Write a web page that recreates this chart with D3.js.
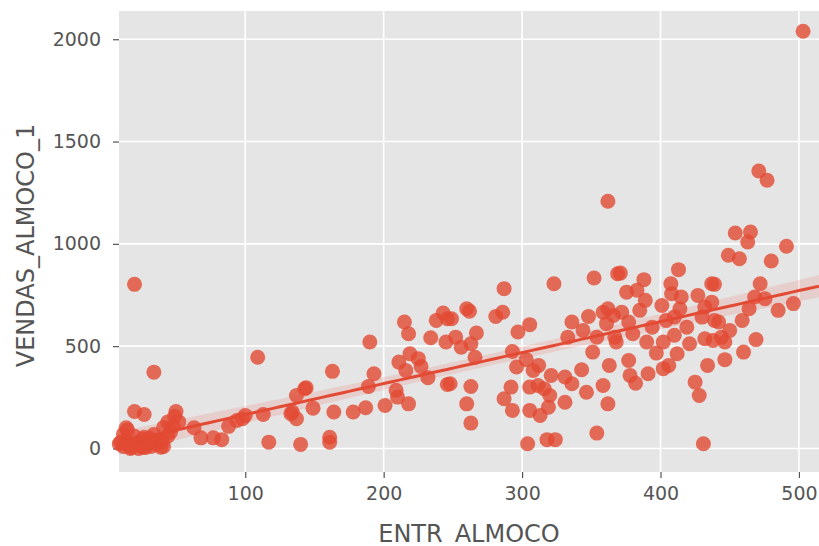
<!DOCTYPE html>
<html>
<head>
<meta charset="utf-8">
<script src="https://cdn.jsdelivr.net/npm/d3@7"></script>
<style>
  body { margin: 0; background: #fff; }
  svg { display: block; font-family: "DejaVu Sans", sans-serif; }
</style>
</head>
<body>
<div id="chart"></div>
<script>
// chart data
var entr = [
  34,109,20,27,50,49,14,34,41,44,40,39,63,68,77,83,88,94,98,100,113,117,20,
  12,14,16,18,20,22,24,26,28,30,12,15,10,17,23,27,32,36,38,41,44,46,48,52,31,9,17,26,27,
  163,190,144,137,134,137,149,164,178,187,140,161,161,193,189,201,210,209,218,211,216,219,225,227,
  215,218,232,234,238,243,246,245,246,143,133,
  287,323,352,369,260,262,281,286,249,252,256,263,267,266,248,263,260,263,293,297,305.5,296,303,308,312,
  292,287,293,304,318,324,305.5,311.5,321,316,320,305.5,313,319,331,336,331,343,346.5,358.5,362,354,363,
  336,348,333,344,354,351,358.5,362,366,367,361,
  413,371,388,407.5,437,375.5,383,389,408,415,427,372,385,401,414,432,437,377,394,404,410,419,430,439,
  368,380,390,402,410,421,432,438,397,412,406,402,377,391,378,382,434,425,428,431,
  471,477,454,465,463,491,449,457,480,439,472,468,475.5,496,485,464,459,442,450,444,446.5,469,460,446.5,
  503,362
];
var vendas = [
  373,446,181,166,181,156,101,68,103,129,31,6,101,52,52,43,108,137,145,161,166,31,802,
  10,40,20,5,60,30,15,45,5,25,70,90,30,0,0,20,10,20,40,10,60,80,110,130,50,23,15,6,55,
  377,520,297,259,178,145,197,178,178,199,20,55,31,365,303,210,251,284,218,422,381,463,439,401,
  618,561,346,541,626,662,634,520,313,292,170,
  781,805,833,854,683,671,645,666,634,544,495,512,564,446,316,303,218,124,474,569,605,398,434,381,406,
  300,243,186,23,43,43,300,308,357,292,259,186,161,202,349,316,226,385,275,308,218,75,406,
  618,645,544,577,544,471,666,683,650,544,610,
  874,857,825,805,805,764,773,724,756,740,748,666,675,699,683,691,715,618,593,626,642,593,642,626,
  520,561,520,520,553,512,536,528,466,463,406,390,430,365,357,319,406,324,259,23,
  1356,1311,1053,1058,1009,988,944,927,916,802,805,740,732,708,675,683,626,618,577,544,520,532,471,434,
  2039,1208
];
var xTicks = [100, 200, 300, 400, 500];
var yTicks = [0, 500, 1000, 1500, 2000];
var xDomain = [8.8, 514.5];
var yDomain = [-115, 2138];
var xLabel = "ENTR_ALMOCO";
var yLabel = "VENDAS_ALMOCO_1";

var width = 819, height = 546;
var plotL = 119, plotR = 819, plotT = 11, plotB = 472;
var red = "#E24A33";

var svg = d3.select("#chart").append("svg")
  .attr("width", width)
  .attr("height", height);

var x = d3.scaleLinear().domain(xDomain).range([plotL, plotR]);
var y = d3.scaleLinear().domain(yDomain).range([plotB, plotT]);

// panel background + grid
svg.append("rect")
  .attr("x", plotL).attr("y", plotT)
  .attr("width", plotR - plotL).attr("height", plotB - plotT)
  .attr("fill", "#E5E5E5");

svg.selectAll(".vgrid").data(xTicks).enter().append("line")
  .attr("x1", d => x(d)).attr("x2", d => x(d))
  .attr("y1", plotT).attr("y2", plotB)
  .attr("stroke", "#fff").attr("stroke-width", 1.6);

svg.selectAll(".hgrid").data(yTicks).enter().append("line")
  .attr("x1", plotL).attr("x2", plotR)
  .attr("y1", d => y(d)).attr("y2", d => y(d))
  .attr("stroke", "#fff").attr("stroke-width", 1.6);

// axes
var xAxis = svg.append("g")
  .attr("transform", "translate(0," + plotB + ")")
  .call(d3.axisBottom(x).tickValues(xTicks).tickSize(6).tickPadding(9).tickFormat(d3.format("d")));
var yAxis = svg.append("g")
  .attr("transform", "translate(" + plotL + ",0)")
  .call(d3.axisLeft(y).tickValues(yTicks).tickSize(6).tickPadding(12).tickFormat(d3.format("d")));

[xAxis, yAxis].forEach(function(g) {
  g.select(".domain").remove();
  g.selectAll(".tick line").attr("stroke", "#555555").attr("stroke-width", 1.2);
  g.selectAll(".tick text")
    .attr("fill", "#555555")
    .attr("font-size", "19px")
    .attr("font-family", "DejaVu Sans");
});

// points
var pts = entr.map(function(d, i) { return [d, vendas[i]]; });

svg.append("g").selectAll("circle")
  .data(pts)
  .enter()
  .append("circle")
  .attr("cx", d => x(d[0]))
  .attr("cy", d => y(d[1]))
  .attr("r", 7.5)
  .attr("fill", red)
  .attr("fill-opacity", 0.8);

// least squares fit with 95% band
var n = pts.length;
var mx = d3.mean(entr), my = d3.mean(vendas);
var sxx = d3.sum(entr, d => (d - mx) * (d - mx));
var sxy = d3.sum(pts, d => (d[0] - mx) * (d[1] - my));
var slope = sxy / sxx;
var icpt = my - slope * mx;
var sse = d3.sum(pts, d => Math.pow(d[1] - (icpt + slope * d[0]), 2));
var se = Math.sqrt(sse / (n - 2));

var grid = d3.range(0, 101).map(function(i) {
  var xv = xDomain[0] + (xDomain[1] - xDomain[0]) * i / 100;
  var fit = icpt + slope * xv;
  var half = 1.97 * se * Math.sqrt(1 / n + (xv - mx) * (xv - mx) / sxx);
  return { x: xv, fit: fit, lo: fit - half, hi: fit + half };
});

svg.append("path")
  .datum(grid)
  .attr("d", d3.area().x(d => x(d.x)).y0(d => y(d.lo)).y1(d => y(d.hi)))
  .attr("fill", red)
  .attr("fill-opacity", 0.15);

svg.append("path")
  .datum(grid)
  .attr("d", d3.line().x(d => x(d.x)).y(d => y(d.fit)))
  .attr("fill", "none")
  .attr("stroke", red)
  .attr("stroke-width", 3);

// axis labels
svg.append("text")
  .attr("x", (plotL + plotR) / 2)
  .attr("y", 542)
  .attr("text-anchor", "middle")
  .attr("font-size", "24px")
  .attr("fill", "#555555")
  .text(xLabel);

svg.append("text")
  .attr("transform", "translate(34," + ((plotT + plotB) / 2 + 4) + ") rotate(-90)")
  .attr("text-anchor", "middle")
  .attr("font-size", "24px")
  .attr("fill", "#555555")
  .text(yLabel);
</script>
</body>
</html>
